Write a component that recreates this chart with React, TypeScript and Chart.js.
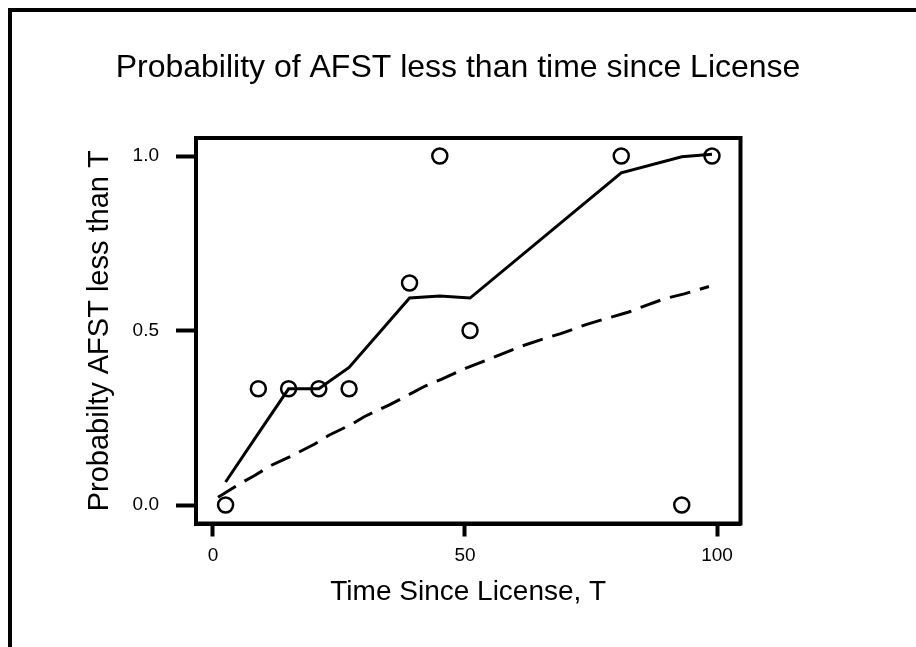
import React, { useEffect, useRef } from "react";
import { Chart, registerables } from "chart.js";

Chart.register(...registerables);

const chartTitle = "Probability of AFST less than time since License";
const xAxisTitle = "Time Since License, T";
const yAxisTitle = "Probabilty AFST less than T";

const xTickValues = [0, 50, 100];
const yTickValues = [0, 0.5, 1];

// observed points (circles)
const pointT = [2.5, 9, 15, 21, 27, 39, 45, 51, 81, 93, 99];
const pointP = [0, 0.333, 0.333, 0.333, 0.333, 0.636, 1, 0.5, 1, 0, 1];

// solid smoothed curve
const smoothT = [2.5, 9, 15, 21, 27, 39, 45, 51, 81, 93, 99];
const smoothP = [0.066, 0.205, 0.333, 0.333, 0.394, 0.593, 0.599, 0.593, 0.952, 0.998, 1.005];

// dashed curve
const dashT = [1, 5.2, 8.1, 11.6, 15.2, 20.1, 23, 27.6, 30, 35, 37.8, 42.1, 45.3, 50.2, 53.4, 58.4, 61.2, 66.2, 69, 74, 77.2, 82.5, 85, 89.6, 93.5, 98.4];
const dashP = [0.022, 0.06, 0.083, 0.114, 0.138, 0.174, 0.2, 0.232, 0.253, 0.287, 0.308, 0.341, 0.36, 0.392, 0.41, 0.439, 0.455, 0.479, 0.491, 0.517, 0.531, 0.553, 0.567, 0.591, 0.605, 0.626];

const FONT = "'Liberation Sans', Arial, Helvetica, sans-serif";

const boxPlugin = {
  id: "boxPlugin",
  afterDatasetsDraw(chart: any) {
    const { ctx, chartArea } = chart;
    ctx.save();
    ctx.strokeStyle = "#000";
    ctx.lineWidth = 4;
    ctx.strokeRect(chartArea.left, chartArea.top, chartArea.right - chartArea.left, chartArea.bottom - chartArea.top);
    ctx.restore();
  },
};

export default function App() {
  const canvasRef = useRef<HTMLCanvasElement | null>(null);

  useEffect(() => {
    if (!canvasRef.current) return;
    Chart.defaults.color = "#000";
    const chart = new Chart(canvasRef.current, {
      type: "scatter",
      data: {
        datasets: [
          {
            label: "observed",
            data: pointT.map((t, i) => ({ x: t, y: pointP[i] })),
            showLine: false,
            pointStyle: "circle",
            pointRadius: 7.5,
            pointBorderWidth: 2.5,
            pointBorderColor: "#000",
            pointBackgroundColor: "rgba(0,0,0,0)",
            clip: false,
          },
          {
            label: "smooth",
            data: smoothT.map((t, i) => ({ x: t, y: smoothP[i] })),
            showLine: true,
            pointRadius: 0,
            borderColor: "#000",
            borderWidth: 3,
            tension: 0,
            clip: false,
          },
          {
            label: "dashed",
            data: dashT.map((t, i) => ({ x: t, y: dashP[i] })),
            showLine: true,
            pointRadius: 0,
            borderColor: "#000",
            borderWidth: 3,
            borderDash: [21, 10],
            tension: 0,
            clip: false,
          },
        ],
      },
      options: {
        responsive: false,
        animation: false,
        layout: { padding: 0 },
        plugins: {
          legend: { display: false },
          tooltip: { enabled: false },
          title: {
            display: true,
            text: chartTitle,
            color: "#000",
            font: { family: FONT, size: 32, weight: "normal" },
            padding: { top: 49, bottom: 50.6 },
          },
        },
        scales: {
          x: {
            type: "linear",
            position: "bottom",
            min: -3.37,
            max: 104.66,
            afterBuildTicks: (s: any) => {
              s.ticks = xTickValues.map((v) => ({ value: v }));
            },
            afterFit: (s: any) => {
              s.height = 123.5;
            },
            ticks: {
              color: "#000",
              font: { family: FONT, size: 19 },
              padding: 8,
              maxRotation: 0,
              callback: (v: any) => String(v),
            },
            grid: {
              display: true,
              drawOnChartArea: false,
              drawTicks: true,
              tickLength: 13,
              tickWidth: 4,
              tickColor: "#000",
            },
            border: { display: true, width: 4, color: "#000" },
            title: {
              display: true,
              text: xAxisTitle,
              color: "#000",
              font: { family: FONT, size: 28 },
              padding: { top: 0, bottom: 37.7 },
            },
          },
          y: {
            type: "linear",
            position: "left",
            min: -0.053,
            max: 1.0516,
            afterBuildTicks: (s: any) => {
              s.ticks = yTickValues.map((v) => ({ value: v }));
            },
            afterFit: (s: any) => {
              s.width = 196;
            },
            ticks: {
              color: "#000",
              font: { family: FONT, size: 19 },
              padding: 17,
              callback: (v: any) => Number(v).toFixed(1),
            },
            grid: {
              display: true,
              drawOnChartArea: false,
              drawTicks: true,
              tickLength: 20,
              tickWidth: 4,
              tickColor: "#000",
            },
            border: { display: true, width: 4, color: "#000" },
            title: {
              display: true,
              text: yAxisTitle,
              color: "#000",
              font: { family: FONT, size: 29 },
              padding: { top: 82.6, bottom: 0 },
            },
          },
          yRight: {
            type: "linear",
            position: "right",
            display: true,
            min: 0,
            max: 1,
            afterFit: (s: any) => {
              s.width = 175.5;
            },
            ticks: { display: false },
            grid: { display: false, drawTicks: false },
            border: { display: false },
          },
        },
      },
      plugins: [boxPlugin],
    } as any);
    return () => chart.destroy();
  }, []);

  return (
    <div style={{ position: "fixed", left: 0, top: 0, width: 916, height: 647, background: "#fff" }}>
      <div
        style={{
          position: "absolute",
          left: 8,
          top: 8,
          width: 908,
          height: 639,
          borderLeft: "4px solid #000",
          borderTop: "4px solid #000",
          boxSizing: "border-box",
        }}
      />
      <canvas ref={canvasRef} width={916} height={647} style={{ position: "absolute", left: 0, top: 0 }} />
    </div>
  );
}
